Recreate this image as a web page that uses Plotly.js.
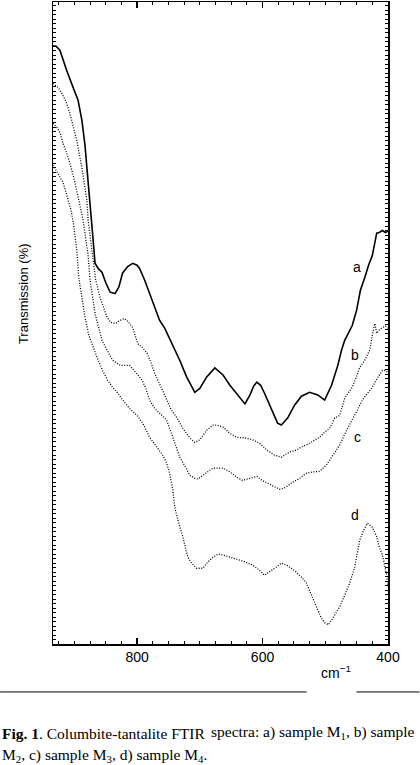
<!DOCTYPE html>
<html>
<head>
<meta charset="utf-8">
<script src="https://cdn.plot.ly/plotly-3.0.1.min.js"></script>
<style>
  html, body { margin: 0; padding: 0; background: #fff; }
  #chart { width: 420px; height: 765px; }
</style>
</head>
<body>
<div id="chart"></div>
<script>
// wavenumbers (cm-1) and transmission (arbitrary %)
const wn_a = [934, 929, 923, 918, 912, 902, 894, 888, 883, 880, 875, 872, 870, 867, 862, 856, 850, 843, 835, 829,
              823, 815, 807, 800, 796, 788, 780, 772, 764, 756, 748, 740, 732, 721, 708, 700, 689, 676, 663, 652,
              640, 628, 620, 614, 609, 603, 597, 585, 576, 570, 560, 549, 538, 525, 512, 501, 490, 480, 474, 469,
              461, 457, 450, 444, 437, 431, 425, 418, 414, 409, 404, 400]
const tr_a = [93.2, 93.1, 92.5, 90.9, 89.3, 86.7, 84.7, 81.6, 77.7, 74.2, 69.1, 66.0, 62.9, 59.3, 58.5, 57.9, 56.3, 54.8, 54.6, 55.6,
              57.8, 58.8, 59.3, 59.0, 58.5, 56.7, 54.6, 52.6, 50.4, 49.2, 47.6, 45.8, 44.2, 41.6, 39.2, 39.8, 41.6, 43.0, 41.9, 40.3,
              38.8, 37.4, 38.8, 40.2, 40.8, 40.3, 39.1, 36.4, 34.4, 34.1, 35.2, 37.2, 38.6, 39.2, 38.8, 38.0, 40.3, 43.4, 45.8, 47.3,
              48.9, 49.6, 52.0, 55.1, 57.1, 59.0, 60.5, 64.0, 64.1, 64.4, 64.1, 64.3]

const wn_b = [934, 926, 920, 913, 907, 901, 896, 888, 883, 880, 878, 875, 870, 866, 859, 853, 848, 842, 835, 827,
              821, 816, 812, 807, 799, 792, 784, 778, 772, 762, 753, 745, 737, 727, 716, 708, 700, 689, 679, 673,
              663, 652, 641, 628, 616, 605, 593, 581, 570, 557, 546, 538, 530, 517, 509, 501, 493, 485, 477, 469,
              461, 457, 450, 445, 437, 429, 425, 421, 418, 414, 409, 404, 400]
const tr_b = [87.3, 86.7, 85.8, 84.4, 82.6, 80.5, 78.4, 74.2, 71.4, 69.1, 66.0, 63.7, 59.0, 56.7, 54.0, 52.3, 50.9, 50.1, 49.9, 50.4,
              50.7, 50.4, 49.9, 49.3, 46.8, 46.2, 45.3, 43.9, 42.2, 40.0, 38.0, 36.4, 35.3, 33.6, 32.1, 31.4, 31.8, 33.3, 34.1, 34.1,
              33.8, 32.8, 32.2, 32.1, 31.8, 31.3, 30.2, 29.4, 29.1, 29.9, 30.2, 30.7, 31.0, 31.8, 32.2, 33.0, 33.6, 35.2, 35.6, 38.3,
              39.5, 40.0, 41.7, 43.1, 44.2, 45.8, 48.1, 49.9, 48.4, 48.9, 49.3, 49.5, 49.2]

const wn_c = [934, 928, 923, 918, 912, 907, 901, 896, 891, 886, 882, 878, 875, 870, 867, 861, 856, 848, 839, 827,
              820, 812, 802, 792, 786, 780, 772, 764, 753, 743, 732, 722, 716, 708, 703, 692, 679, 663, 652, 641,
              632, 620, 609, 601, 593, 582, 573, 563, 552, 541, 530, 519, 509, 498, 488, 477, 466, 457, 449, 441,
              433, 425, 417, 409, 404, 400]
const tr_c = [81.1, 80.5, 79.7, 78.0, 76.4, 74.9, 72.7, 70.7, 68.3, 66.0, 62.9, 60.5, 56.7, 53.5, 51.5, 49.2, 47.3, 45.8, 44.2, 43.4,
              43.4, 43.4, 42.3, 41.1, 39.8, 38.0, 36.7, 36.0, 34.9, 32.2, 29.1, 27.4, 26.3, 25.8, 25.7, 26.5, 27.4, 27.4, 26.8, 26.0,
              25.5, 25.8, 26.1, 25.5, 25.1, 24.6, 24.1, 24.4, 25.2, 25.8, 26.6, 26.8, 26.9, 27.9, 29.4, 31.0, 33.3, 34.9, 36.4, 38.0,
              39.1, 40.0, 41.4, 42.6, 42.6, 42.3]

const wn_d = [934, 928, 918, 912, 905, 901, 896, 893, 888, 883, 877, 870, 862, 855, 847, 839, 831, 823, 812, 800,
              791, 780, 769, 759, 753, 748, 743, 740, 734, 727, 722, 719, 713, 705, 695, 687, 679, 671, 665, 652,
              641, 628, 616, 605, 597, 589, 578, 570, 562, 554, 546, 538, 530, 522, 514, 507, 501, 495, 490, 484,
              477, 469, 461, 453, 449, 445, 439, 433, 425, 418, 414, 409, 406, 402, 400]
const tr_d = [74.6, 73.5, 71.9, 69.9, 67.5, 65.2, 61.3, 57.1, 53.9, 50.9, 48.1, 46.2, 44.2, 42.6, 41.1, 40.0, 39.1, 38.0, 36.7, 35.6,
              34.4, 32.2, 30.7, 29.4, 28.2, 26.6, 24.0, 21.3, 19.0, 16.7, 14.6, 13.5, 12.6, 11.8, 11.8, 12.8, 13.5, 14.0, 13.9, 13.5,
              13.1, 12.8, 12.3, 11.5, 10.7, 11.2, 12.0, 12.6, 12.3, 11.8, 11.2, 10.4, 9.5, 7.6, 5.8, 4.2, 3.3, 3.0, 3.7, 4.7,
              5.8, 7.6, 9.5, 12.0, 13.9, 16.2, 17.7, 18.8, 18.2, 16.7, 15.1, 13.9, 12.6, 10.7, 8.9]

const x_ticks = [800, 600, 400]
const curve_labels = ['a', 'b', 'c', 'd']
const label_wn = [450, 453, 449, 453]
const label_tr = [58.7, 45.0, 32.2, 20.1]

const solid_line  = { color: '#000', width: 1.6 }
const dotted_line = { color: '#000', width: 1.3, dash: '1px,1.6px' }
const sans  = 'Liberation Sans, Arial, sans-serif'
const serif = 'Liberation Serif, Times New Roman, serif'

const trace = (x, y, line) => ({ x: x, y: y, type: 'scatter', mode: 'lines', line: line, hoverinfo: 'skip' })

const data = [
    trace(wn_a, tr_a, solid_line),
    trace(wn_b, tr_b, dotted_line),
    trace(wn_c, tr_c, dotted_line),
    trace(wn_d, tr_d, dotted_line)
]

let annotations = curve_labels.map((t, i) => ({
    x: label_wn[i], y: label_tr[i], xref: 'x', yref: 'y', text: t, showarrow: false,
    font: { family: sans, size: 14, color: '#000' }
}))

annotations.push(
    { xref: 'paper', yref: 'paper', x: -0.116, y: 0.546, text: 'Transmission (%)', textangle: -90,
      showarrow: false, font: { family: sans, size: 13, color: '#000' } },
    { xref: 'paper', yref: 'paper', x: 0.895, y: -0.060, text: 'cm<sup>\u22121</sup>',
      showarrow: false, font: { family: sans, size: 14, color: '#000' } },
    { xref: 'paper', yref: 'paper', x: -0.158, y: -0.155, xanchor: 'left', yanchor: 'bottom',
      text: '<b>Fig. 1</b>. Columbite-tantalite FTIR',
      showarrow: false, font: { family: serif, size: 15.5, color: '#000' } },
    { xref: 'paper', yref: 'paper', x: 1.088, y: -0.155, xanchor: 'right', yanchor: 'bottom',
      text: 'spectra: a) sample M<sub>1</sub>, b) sample',
      showarrow: false, font: { family: serif, size: 15.5, color: '#000' } },
    { xref: 'paper', yref: 'paper', x: -0.158, y: -0.156, xanchor: 'left', yanchor: 'top',
      text: 'M<sub>2</sub>, c) sample M<sub>3</sub>, d) sample M<sub>4</sub>.',
      showarrow: false, font: { family: serif, size: 15.5, color: '#000' } }
)

const rule = (x0, x1) => ({
    type: 'line', xref: 'paper', yref: 'paper', x0: x0, x1: x1, y0: -0.0747, y1: -0.0747,
    line: { color: '#000', width: 1 }
})

const layout = {
    width: 420,
    height: 765,
    margin: { l: 53, r: 31.5, t: 1.5, b: 121, pad: 0 },
    paper_bgcolor: '#fff',
    plot_bgcolor: '#fff',
    showlegend: false,
    xaxis: {
        range: [934, 400],
        tickvals: x_ticks,
        ticks: 'inside',
        ticklen: 6,
        tickwidth: 1.5,
        tickcolor: '#000',
        minor: { dtick: 25, ticks: 'inside', ticklen: 3, tickcolor: '#000', tickwidth: 1 },
        showline: true,
        linecolor: '#000',
        linewidth: 1.5,
        mirror: 'ticks',
        showgrid: false,
        zeroline: false,
        tickfont: { family: sans, size: 14, color: '#000' }
    },
    yaxis: {
        range: [0, 100],
        dtick: 0.7,
        ticks: 'inside',
        ticklen: 3,
        tickwidth: 1,
        tickcolor: '#000',
        showticklabels: false,
        showline: true,
        linecolor: '#000',
        linewidth: 1.5,
        mirror: 'ticks',
        showgrid: false,
        zeroline: false
    },
    annotations: annotations,
    shapes: [rule(-0.158, 0.757), rule(0.906, 1.094)]
}

Plotly.newPlot('chart', data, layout, { staticPlot: true, displayModeBar: false })
</script>
</body>
</html>
